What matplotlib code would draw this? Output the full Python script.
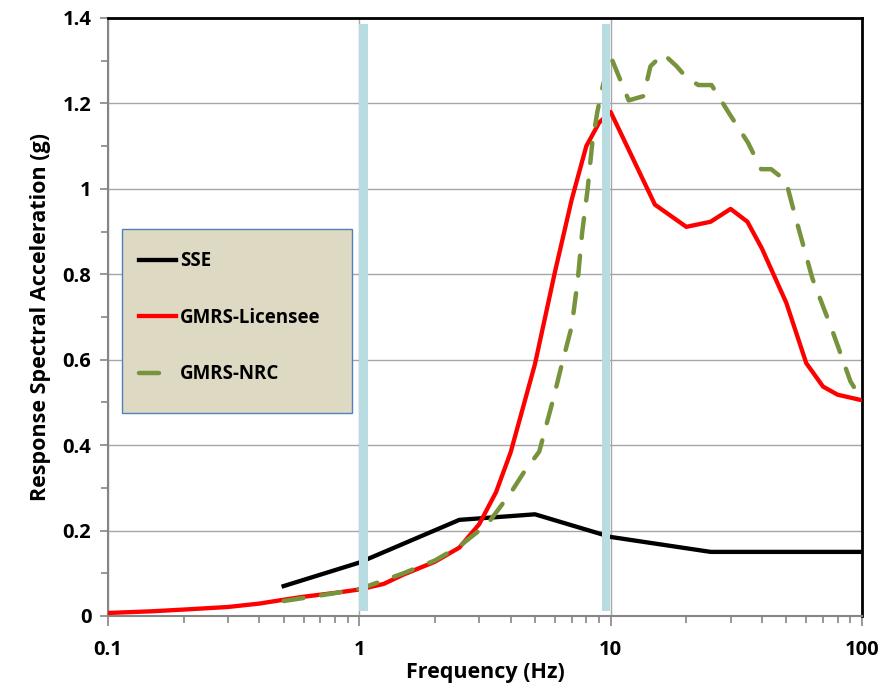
import matplotlib
matplotlib.use("Agg")
import matplotlib.pyplot as plt
from matplotlib.patches import Rectangle
from matplotlib.ticker import MultipleLocator, LogLocator, NullFormatter, FixedFormatter, FixedLocator, FuncFormatter

plt.rcParams['font.family'] = ['Open Sans', 'DejaVu Sans']
plt.rcParams['font.weight'] = 'bold'

# SSE
sse_f = [0.5, 1.0, 2.5, 5.0, 10.0, 25.0, 100.0]
sse_a = [0.07, 0.125, 0.225, 0.238, 0.185, 0.15, 0.15]

# GMRS-Licensee
lic_f = [0.1, 0.15, 0.2, 0.3, 0.4, 0.5, 0.6, 0.8, 1.0, 1.25, 1.5, 2.0, 2.5, 3.0, 3.5, 4.0,
         5.0, 6.0, 7.0, 8.0, 9.0, 10.0, 15.0, 20.0, 25.0, 30.0, 35.0, 40.0, 50.0, 60.0,
         70.0, 80.0, 100.0]
lic_a = [0.007, 0.011, 0.015, 0.021, 0.029, 0.038, 0.045, 0.054, 0.062, 0.075, 0.097, 0.127,
         0.16, 0.215, 0.29, 0.383, 0.59, 0.805, 0.975, 1.1, 1.155, 1.18, 0.963, 0.911, 0.923,
         0.953, 0.923, 0.86, 0.733, 0.592, 0.537, 0.518, 0.505]

# GMRS-NRC
nrc_f = [0.5, 0.7, 1.0, 1.5, 2.0, 2.5, 3.0, 3.3, 4.0, 4.5, 5.2, 5.9, 6.4, 7.0, 7.4, 7.7,
         8.1, 8.45, 8.85, 9.3, 10.0, 11.8, 13.5, 14.4, 16.2, 18.3, 19.8, 22.3, 25.2, 29.8,
         35.2, 39.7, 43.5, 49.8, 54.0, 63.5, 76.0, 90.0, 100.0]
nrc_a = [0.035, 0.048, 0.063, 0.1, 0.13, 0.163, 0.2, 0.222, 0.288, 0.335, 0.385, 0.506,
         0.59, 0.678, 0.787, 0.897, 1.0, 1.107, 1.18, 1.24, 1.31, 1.207, 1.217, 1.287,
         1.316, 1.287, 1.264, 1.243, 1.243, 1.174, 1.108, 1.046, 1.046, 1.019, 0.94, 0.79,
         0.67, 0.549, 0.506]

bands = [(1.0, 1.08), (9.2, 9.9)]

fig = plt.figure(figsize=(8.83, 6.89), dpi=100)
ax = fig.add_axes([0.1223, 0.106, 0.8539, 0.8679])

ax.plot(sse_f, sse_a, color='black', lw=3.1, label='SSE', zorder=3)
ax.plot(lic_f, lic_a, color='#ff0000', lw=3.1, label='GMRS-Licensee', zorder=3)
ax.plot(nrc_f, nrc_a, color='#77933c', lw=3.2, linestyle=(0, (4.5, 4.0)),
        dash_capstyle='round', label='GMRS-NRC', zorder=4)

for lo, hi in bands:
    ax.axvspan(lo, hi, ymin=0.008, ymax=0.99, color='#b7dde3', lw=0, zorder=5)

ax.set_xscale('log')
ax.set_xlim(0.1, 100)
ax.set_ylim(0, 1.4)
ax.xaxis.set_major_locator(FixedLocator([0.1, 1, 10, 100]))
ax.xaxis.set_major_formatter(FixedFormatter(['0.1', '1', '10', '100']))
ax.xaxis.set_minor_locator(LogLocator(base=10, subs=range(2, 10)))
ax.xaxis.set_minor_formatter(NullFormatter())
ax.yaxis.set_major_locator(MultipleLocator(0.2))
ax.yaxis.set_minor_locator(MultipleLocator(0.1))
ax.yaxis.set_major_formatter(FuncFormatter(lambda v, p: ('%.1f' % v).rstrip('0').rstrip('.') if abs(v) > 1e-9 else '0'))

ax.grid(True, which='major', color='#a6a6a6', lw=1.0, zorder=0)
ax.set_axisbelow(True)
ax.tick_params(axis='both', which='major', labelsize=14.5, color='#868686', width=1.2)
ax.tick_params(axis='x', which='major', length=7, pad=10)
ax.tick_params(axis='y', which='major', length=6, pad=6)
ax.tick_params(axis='both', which='minor', color='#868686', width=1.2, length=5)
for lab in ax.get_xticklabels() + ax.get_yticklabels():
    lab.set_fontweight('bold')

for s in ['left', 'bottom']:
    ax.spines[s].set_color('#868686')
    ax.spines[s].set_linewidth(1.5)
for s in ['top', 'right']:
    ax.spines[s].set_color('black')
    ax.spines[s].set_linewidth(2.0)

ax.set_xlabel('Frequency (Hz)', fontsize=15.5, fontweight='bold', labelpad=2)
ax.set_ylabel('Response Spectral Acceleration (g)', fontsize=15.5, fontweight='bold', labelpad=8)

ax.add_patch(Rectangle((0.0186, 0.339), 0.305, 0.308, transform=ax.transAxes,
                       facecolor='#ddd9c3', edgecolor='#4f81bd', lw=1.0, zorder=6))
leg = ax.legend(loc='upper left', bbox_to_anchor=(0.041, 0.61), frameon=False,
                fontsize=13.5, labelspacing=1.95, handlelength=2.0, handletextpad=0.2,
                borderpad=0, borderaxespad=0)
leg.set_zorder(7)
for t in leg.get_texts():
    t.set_fontweight('bold')

plt.savefig('out.png', dpi=100)
